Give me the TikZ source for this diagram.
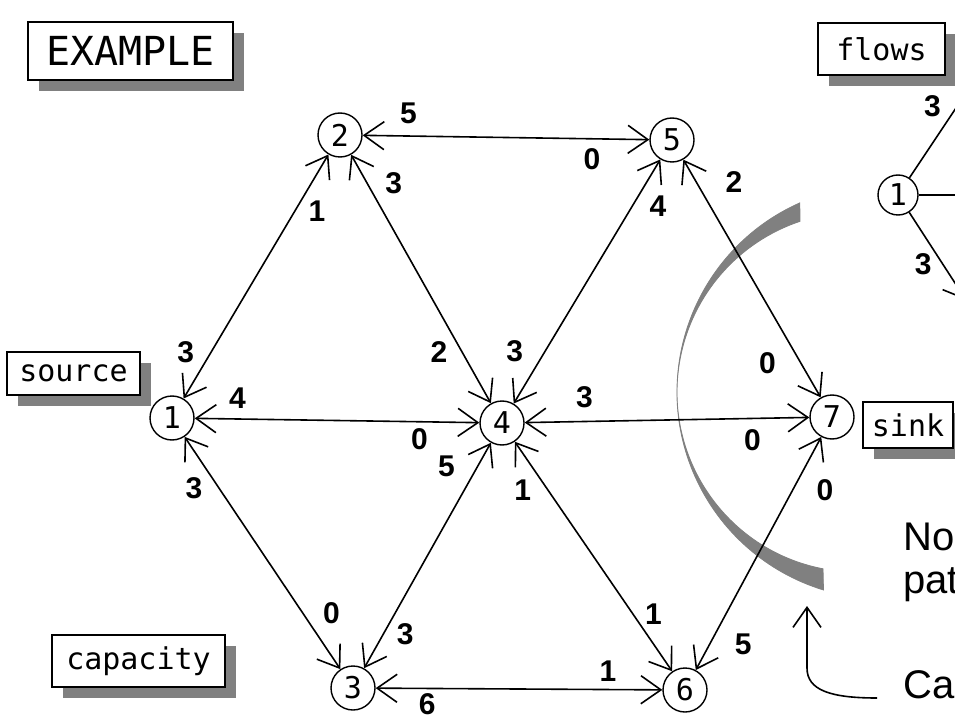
\documentclass[tikz,border=0pt]{standalone}
\usepackage{fontspec}
\setmainfont{Liberation Sans}
\newfontfamily\monaco{DejaVu Sans Mono}
\usetikzlibrary{arrows.meta, shadows}
\colorlet{dither}{black!50}

\begin{document}
\begin{tikzpicture}[x=1pt, y=-1pt, >={Straight Barb[length=20pt,width=28pt]},
  vertex/.style={circle, draw, fill=white, line width=1.4pt, minimum size=44pt,
    inner sep=0pt, font=\monaco\fontsize{30}{30}\selectfont},
  link/.style={<->, line width=1.6pt},
  wt/.style={inner sep=2pt, font=\bfseries\fontsize{30}{30}\selectfont},
  tag/.style={draw, fill=white, line width=2pt, inner sep=0pt,
    font=\monaco\fontsize{30}{30}\selectfont,
    drop shadow={shadow xshift=11pt, shadow yshift=-11pt, fill=dither, opacity=1}},
  note/.style={anchor=base west, inner sep=0pt, font=\fontsize{40}{40}\selectfont}
]
  \useasboundingbox (0,0) rectangle (955,719);
  \clip (0,0) rectangle (955,719);
  \fill[white] (0,0) rectangle (955,719);

  % the cut, a grey crescent
  \filldraw[fill=dither, draw=dither, line width=0.8pt]
    (799.8,202.9) arc[start angle=246, end angle=107, radius=207]
    -- (823,568.8) arc[start angle=100.9, end angle=251.5, radius=180] -- cycle;

  % boxes with shadows
  \node[tag, minimum width=205pt, minimum height=58pt,
    font=\monaco\fontsize{40}{40}\selectfont] (example) at (130.5,51) {EXAMPLE};
  \node[tag, minimum width=127pt, minimum height=52pt] (flows) at (881.5,49) {flows};
  \node[tag, minimum width=133pt, minimum height=43pt] (source) at (73.5,373.5) {source};
  \node[tag, minimum width=90pt, minimum height=46pt] (sink) at (908,425) {sink};
  \node[tag, minimum width=173pt, minimum height=52pt] (capacity) at (138.5,661) {capacity};

  % vertices
  \node[vertex] (n1) at (172,418) {1};
  \node[vertex] (n2) at (340,135) {2};
  \node[vertex] (n3) at (353,688) {3};
  \node[vertex] (n4) at (502,423) {4};
  \node[vertex] (n5) at (672,140) {5};
  \node[vertex] (n6) at (685,690) {6};
  \node[vertex] (n7) at (832,417) {7};

  % edges, capacity at each end
  \draw[link] (n1) -- node[wt, above left=4pt, pos=0.12] {3} node[wt, below right=2pt, pos=0.83] {1} (n2);
  \draw[link] (n2) -- node[wt, above=9pt, pos=0.16] {5} node[wt, below=7pt, pos=0.80] {0} (n5);
  \draw[link] (n1) -- node[wt, above=8pt, pos=0.15] {4} node[wt, below=4pt, pos=0.79] {0} (n4);
  \draw[link] (n1) -- node[wt, below left=3pt, pos=0.15] {3} node[wt, above right=5pt, pos=0.84] {0} (n3);
  \draw[link] (n2) -- node[wt, above right=5pt, pos=0.19] {3} node[wt, below left=3pt, pos=0.73] {2} (n4);
  \draw[link] (n5) -- node[wt, below right=4pt, pos=0.12] {4} node[wt, above left=7pt, pos=0.87] {3} (n4);
  \draw[link] (n5) -- node[wt, above right=12pt, pos=0.20] {2} node[wt, below left=9pt, pos=0.76] {0} (n7);
  \draw[link] (n4) -- node[wt, above=11pt, pos=0.21] {3} node[wt, below=8pt, pos=0.80] {0} (n7);
  \draw[link] (n3) -- node[wt, below right=2pt, pos=0.22] {3} node[wt, above left=8pt, pos=0.80] {5} (n4);
  \draw[link] (n4) -- node[wt, below left=3pt, pos=0.14] {1} node[wt, above right, pos=0.81] {1} (n6);
  \draw[link] (n3) -- node[wt, below=2pt, pos=0.18] {6} node[wt, above=5pt, pos=0.81] {1} (n6);
  \draw[link] (n6) -- node[wt, below right=10pt, pos=0.21] {5} node[wt, below right=9pt, pos=0.87] {0} (n7);

  % flows inset, cut off at the right
  \node[vertex, minimum size=40pt] (f1) at (898,195) {1};
  \coordinate (f2) at (990,57);
  \coordinate (f3) at (966,300);
  \coordinate (f4) at (1000,195);
  \draw[->, line width=1.6pt] (f1) -- node[wt, above left=3pt, pos=0.46] {3} (f2);
  \draw[->, line width=1.6pt] (f1) -- (f4);
  \draw[->, line width=1.6pt] (f1) -- node[wt, below left, pos=0.44] {3} (f3);

  % notes on the right
  \node[note] (nopath) at (903,550) {No};
  \node[note] (path) at (903,593) {pat};
  \node[note] (capnote) at (903,698) {Cap};
  \coordinate (captail) at (877,698);
  \coordinate (cuttip) at (807,606);
  \draw[->, line width=1.6pt] (captail) .. controls (830,698) and (807,690) .. (807,668) -- (cuttip);
\end{tikzpicture}
\end{document}
